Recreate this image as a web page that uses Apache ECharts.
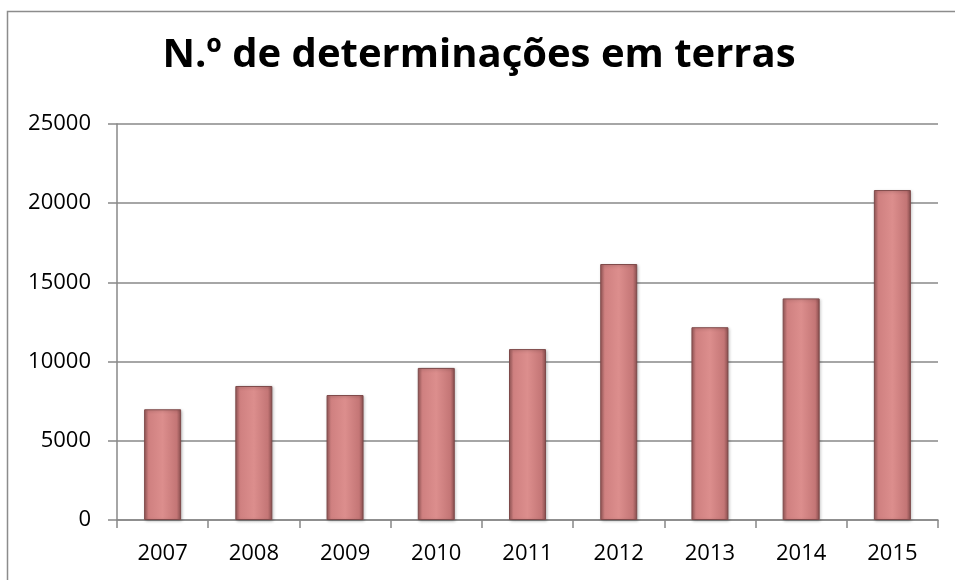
<!DOCTYPE html>
<html lang="pt">
<head>
    <meta charset="UTF-8">
    <title>Determinações em terras</title>
    <script src="https://cdn.jsdelivr.net/npm/echarts@6/dist/echarts.min.js"></script>
    <style type="text/css">
        html, body {
            margin: 0;
            height: 100%;
            background-color: #ffffff;
        }
        #chart {
            width: 955px;
            height: 580px;
        }
    </style>
</head>
<body>
    <div id="chart"></div>
    <script type="text/javascript">
        var titleText = 'N.º de determinações em terras';
        var years = ['2007', '2008', '2009', '2010', '2011', '2012', '2013', '2014', '2015'];
        var counts = [6990, 8460, 7890, 9600, 10790, 16160, 12170, 13990, 20830];
        var yTicks = { min: 0, max: 25000, step: 5000 };

        var myChart = echarts.init(document.getElementById('chart'));

        // bar fill: darker edges, lighter middle
        var barFill = new echarts.graphic.LinearGradient(0, 0, 1, 0, [
            { offset: 0, color: '#9a5a5a' },
            { offset: 0.12, color: '#cf8080' },
            { offset: 0.5, color: '#dc8e8d' },
            { offset: 0.88, color: '#c47676' },
            { offset: 1, color: '#8a4f4f' }
        ]);

        var option = {
            backgroundColor: '#ffffff',
            animation: false,
            title: {
                text: titleText,
                left: 474,
                top: 31,
                textAlign: 'center',
                textStyle: {
                    fontFamily: 'Open Sans',
                    fontWeight: 'bold',
                    fontSize: 40,
                    color: '#000000'
                }
            },
            graphic: [
                {
                    type: 'rect',
                    shape: { x: 7.5, y: 11.5, width: 960, height: 600 },
                    style: { fill: 'none', stroke: '#8c8c8c', lineWidth: 1.5 },
                    silent: true
                }
            ],
            grid: {
                left: 117,
                right: 17,
                top: 124,
                bottom: 60
            },
            xAxis: {
                type: 'category',
                data: years,
                axisLine: { lineStyle: { color: '#888888', width: 1.5 } },
                axisTick: { show: true, length: 8, lineStyle: { color: '#888888', width: 1.5 } },
                axisLabel: {
                    margin: 23,
                    fontFamily: 'Open Sans',
                    fontSize: 22,
                    color: '#000000'
                }
            },
            yAxis: {
                type: 'value',
                min: yTicks.min,
                max: yTicks.max,
                interval: yTicks.step,
                axisLine: { show: true, lineStyle: { color: '#888888', width: 1.5 } },
                axisTick: { show: true, length: 9, lineStyle: { color: '#888888', width: 1.5 } },
                axisLabel: {
                    margin: 26,
                    fontFamily: 'Open Sans',
                    fontSize: 22,
                    color: '#000000',
                    formatter: function (v) { return String(v); }
                },
                splitLine: { lineStyle: { color: '#888888', width: 1.5 } }
            },
            series: [
                {
                    type: 'bar',
                    data: counts,
                    barWidth: 37,
                    itemStyle: {
                        color: barFill,
                        borderColor: '#7e4a4a',
                        borderWidth: 1,
                        shadowColor: 'rgba(0,0,0,0.25)',
                        shadowBlur: 3,
                        shadowOffsetX: 1,
                        shadowOffsetY: 1
                    }
                }
            ]
        };

        myChart.setOption(option);
    </script>
</body>
</html>
